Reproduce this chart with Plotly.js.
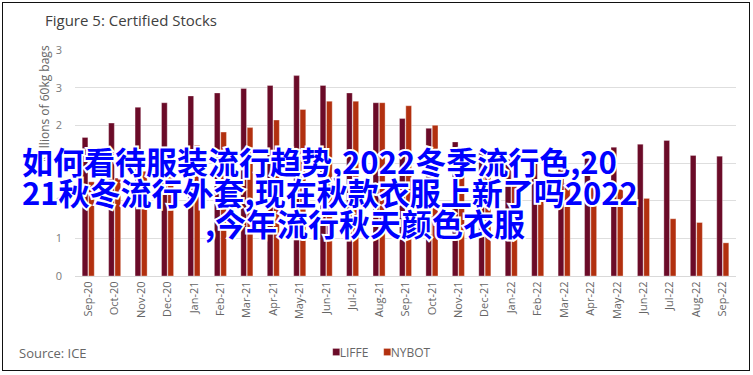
<!DOCTYPE html>
<html>
<head>
<meta charset="utf-8">
<script src="https://cdn.plot.ly/plotly-3.0.1.min.js"></script>
<style>
  html, body { margin: 0; padding: 0; background: #fff; }
  #wrap { position: relative; width: 753px; height: 375px; overflow: hidden; }
  #chart { position: absolute; left: 0; top: 0; width: 753px; height: 375px; }
  #frame { position: absolute; left: 2px; top: 2px; width: 746px; height: 367px; border: 1.5px solid #111; pointer-events: none; }
  .wm { position: absolute; font-family: "Noto Sans CJK SC", sans-serif; font-size: 31px; line-height: 31px;
        color: #0000ff; white-space: nowrap; pointer-events: none; font-weight: 700;
        -webkit-text-stroke: 4px #ffffff; paint-order: stroke fill; }
  .legend .legendpoints path { transform: translate(36.5px, 0px) scale(0.58); }
  .legend .scrollbox { clip-path: none !important; }
</style>
</head>
<body>
<div id="wrap">
  <div id="chart"></div>
  <div id="frame"></div>
  <div class="wm" id="wm1" style="left:22px; top:145px;"></div>
  <div class="wm" id="wm2" style="left:22px; top:176px;"></div>
  <div class="wm" id="wm3" style="left:205px; top:207px;"></div>
</div>
<script>
const months = ["Sep-20","Oct-20","Nov-20","Dec-20","Jan-21","Feb-21","Mar-21","Apr-21","May-21","Jun-21","Jul-21","Aug-21",
                "Sep-21","Oct-21","Nov-21","Dec-21","Jan-22","Feb-22","Mar-22","Apr-22","May-22","Jun-22","Jul-22","Aug-22","Sep-22"];
const liffe = [1.84, 2.03, 2.24, 2.30, 2.39, 2.43, 2.49, 2.53, 2.66, 2.53, 2.43, 2.30,
               2.09, 1.96, 1.78, 1.65, 1.55, 1.53, 1.62, 1.56, 1.71, 1.75, 1.80, 1.60, 1.59];
const nybot = [1.25, 1.30, 1.39, 1.45, 1.74, 1.91, 1.97, 2.07, 2.21, 2.32, 2.32, 2.30,
               2.26, 2.00, 1.62, 1.50, 1.39, 1.08, 1.23, 1.19, 1.15, 1.03, 0.76, 0.71, 0.44];
const yTickVals = [0, 0.5, 1, 1.5, 2, 2.5, 3];
const yTickText = ["0", "1", "1", "2", "2", "3", "3"];
const seriesNames = ["LIFFE", "NYBOT"];
const seriesColors = ["#6b0b28", "#b2300f"];
const titleText = "Figure 5: Certified Stocks";
const yTitleText = "Millions of 60kg bags";
const sourceText = "Source: ICE";
const watermarkLines = ["如何看待服装流行趋势,2022冬季流行色,20", "21秋冬流行外套,现在秋款衣服上新了吗2022", ",今年流行秋天颜色衣服"];

document.getElementById("wm1").textContent = watermarkLines[0];
document.getElementById("wm2").textContent = watermarkLines[1];
document.getElementById("wm3").textContent = watermarkLines[2];

const font = "Open Sans, Noto Sans, sans-serif";
const traces = [liffe, nybot].map((vals, i) => ({
  type: "bar", x: months, y: vals, name: seriesNames[i],
  marker: { color: seriesColors[i], line: { color: "rgba(255,255,255,0.55)", width: 0.6 } },
  hoverinfo: "x+y+name"
}));

const layout = {
  width: 753, height: 375,
  margin: { l: 75, r: 17, t: 50, b: 99, pad: 0, autoexpand: false },
  paper_bgcolor: "#ffffff", plot_bgcolor: "#ffffff",
  font: { family: font, color: "#666666", size: 11 },
  barmode: "group", bargap: 0.52, bargroupgap: 0.1,
  title: { text: titleText, font: { family: font, size: 15, color: "#404040" },
           xref: "container", yref: "container", x: 45/753, xanchor: "left", y: 1 - 21/375, yanchor: "middle" },
  xaxis: { type: "category", tickangle: -90, tickfont: { size: 11, color: "#666666" }, automargin: false,
           showline: true, linecolor: "#d9d9d9", linewidth: 1, ticks: "", showgrid: false, zeroline: false },
  yaxis: { range: [0, 3], tickvals: yTickVals, ticktext: yTickText, tickfont: { size: 11, color: "#7a7a7a" }, automargin: false,
           showgrid: true, gridcolor: "#dedede", gridwidth: 1, zeroline: false, ticks: "", ticklabelstandoff: 12 },
  showlegend: true,
  legend: { orientation: "h", x: 256/753, xanchor: "left", y: (276-352)/226, yanchor: "middle",
            entrywidth: 6, entrywidthmode: "pixels",
            font: { size: 12, color: "#666666" }, itemclick: false, traceorder: "normal" },
  annotations: [
    { text: yTitleText, textangle: -90, xref: "paper", yref: "paper", x: (44-75)/661, y: (276-104)/226,
      xanchor: "center", yanchor: "middle", showarrow: false, font: { size: 12, color: "#666666" } },
    { text: sourceText, xref: "paper", yref: "paper", x: (17-75)/661, y: (276-353)/226,
      xanchor: "left", yanchor: "middle", showarrow: false, font: { size: 13, color: "#666666" } }
  ]
};

Plotly.newPlot("chart", traces, layout, { displayModeBar: false, staticPlot: false });
</script>
</body>
</html>
